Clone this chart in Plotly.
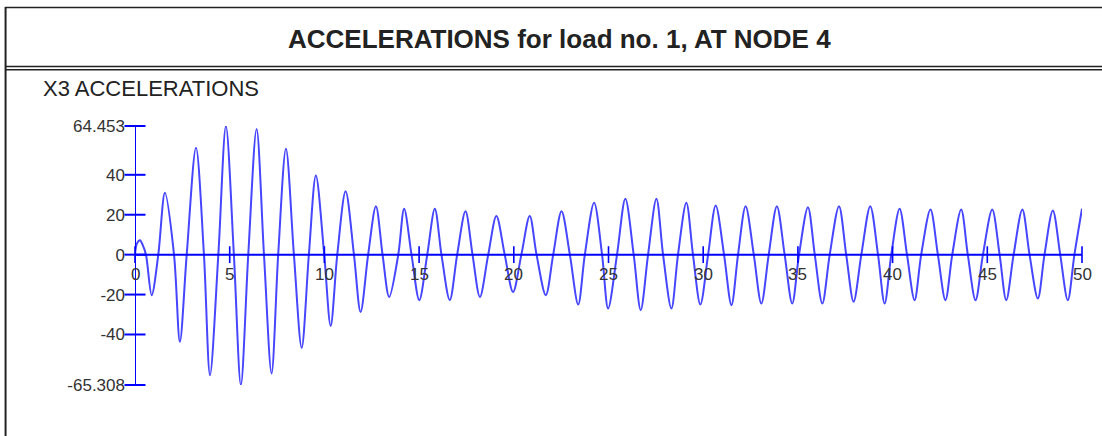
import plotly.graph_objects as go

# Time history of X3 acceleration at node 4 (load no. 1)
time_s = [
    0.00, 0.10, 0.26, 0.42, 0.58, 0.88, 1.23, 1.58, 2.06, 2.37, 2.73, 3.22, 3.64, 3.96,
    4.40, 4.80, 5.22, 5.59, 5.98, 6.42, 6.81, 7.21, 7.56, 7.97, 8.39, 8.80, 9.18, 9.55,
    9.99, 10.33, 10.68, 11.12, 11.56, 11.91, 12.31, 12.72, 13.07, 13.42, 13.90, 14.21,
    14.60, 15.01, 15.43, 15.83, 16.18, 16.62, 17.01, 17.45, 17.82, 18.21, 18.65, 19.08,
    19.52, 19.96, 20.40, 20.84, 21.20, 21.69, 22.08, 22.52, 22.96, 23.40, 23.75, 24.24,
    24.66, 24.98, 25.45, 25.89, 26.33, 26.70, 27.09, 27.53, 27.88, 28.32, 28.67, 29.11,
    29.46, 29.85, 30.26, 30.66, 31.10, 31.49, 31.84, 32.24, 32.67, 33.07, 33.46, 33.89,
    34.30, 34.70, 35.06, 35.53, 35.89, 36.29, 36.68, 37.17, 37.55, 37.94, 38.35, 38.82,
    39.23, 39.58, 39.93, 40.37, 40.76, 41.16, 41.51, 42.00, 42.39, 42.79, 43.15, 43.62,
    43.97, 44.38, 44.77, 45.26, 45.65, 46.00, 46.39, 46.85, 47.23, 47.67, 48.02, 48.46,
    48.85, 49.25, 49.60, 50.00,
]
accel = [
    0.0, 5.5, 7.2, 4.5, 0.0, -20.3, 0.0, 31.0, 0.0, -43.7, 0.0, 53.5, 0.0, -60.4,
    0.0, 64.453, 0.0, -65.308, 0.0, 62.9, 0.0, -59.5, 0.0, 53.0, 0.0, -46.7, 0.0, 39.7,
    0.0, -35.7, 0.0, 31.7, 0.0, -28.7, 0.0, 24.3, 0.0, -21.2, 0.0, 23.0,
    0.0, -22.8, 0.0, 23.0, 0.0, -22.8, 0.0, 21.7, 0.0, -21.2, 0.0, 19.4,
    0.0, -18.7, 0.0, 19.4, 0.0, -20.3, 0.0, 21.8, 0.0, -25.0, 0.0, 26.0,
    0.0, -27.0, 0.0, 28.0, 0.0, -27.8, 0.0, 28.0, 0.0, -27.0, 0.0, 26.0,
    0.0, -25.0, 0.0, 24.6, 0.0, -25.3, 0.0, 24.3, 0.0, -24.5, 0.0, 24.3,
    0.0, -24.5, 0.0, 23.8, 0.0, -24.5, 0.0, 24.3, 0.0, -23.6, 0.0, 24.3,
    0.0, -24.5, 0.0, 23.0, 0.0, -22.8, 0.0, 22.6, 0.0, -22.8, 0.0, 22.6,
    0.0, -22.8, 0.0, 22.6, 0.0, -22.8, 0.0, 22.6, 0.0, -22.0, 0.0, 22.1,
    0.0, -22.8, 0.0, 23.0,
]

x_ticks = [0, 5, 10, 15, 20, 25, 30, 35, 40, 45, 50]
y_ticks_inner = [-40, -20, 0, 20, 40]

a_min, a_max = min(accel), max(accel)
y_ticks = [a_min] + y_ticks_inner + [a_max]
y_labels = [f"{a_min:.3f}"] + [str(v) for v in y_ticks_inner] + [f"{a_max:.3f}"]

W, H = 1102, 436
ML, MR, MT, MB = 135, 19.5, 126, 51
PW, PH = W - ML - MR, H - MT - MB


def px(x):
    return (x - ML) / PW


def py(y):
    return 1 - (y - MT) / PH


BLUE = "#0000ff"
INK = "#222222"
FONT = "Liberation Sans, Arial, sans-serif"

fig = go.Figure()

# the acceleration trace
fig.add_trace(go.Scatter(
    x=time_s, y=accel, mode="lines",
    line=dict(color="#4646ff", width=2, shape="spline", smoothing=0.9),
    hoverinfo="skip", cliponaxis=False,
))

# tick marks crossing the axes
fig.add_trace(go.Scatter(
    x=[0] * len(y_ticks), y=y_ticks, mode="markers",
    marker=dict(symbol="line-ew", size=15, line=dict(color=BLUE, width=2)),
    hoverinfo="skip", cliponaxis=False,
))
fig.add_trace(go.Scatter(
    x=x_ticks, y=[0] * len(x_ticks), mode="markers",
    marker=dict(symbol="line-ns", size=12, line=dict(color=BLUE, width=1.6)),
    hoverinfo="skip", cliponaxis=False,
))

shapes = [
    # axis lines
    dict(type="line", xref="x", yref="y", x0=0, x1=0, y0=a_min, y1=a_max,
         line=dict(color=BLUE, width=2), layer="above"),
    dict(type="line", xref="x", yref="y", x0=0, x1=x_ticks[-1], y0=0, y1=0,
         line=dict(color=BLUE, width=2), layer="above"),
    # outer frame and title band
    dict(type="line", xref="paper", yref="paper", x0=px(5.5), x1=px(5.5), y0=py(7), y1=py(440),
         line=dict(color=INK, width=2)),
    dict(type="line", xref="paper", yref="paper", x0=px(5), x1=px(1110), y0=py(7.5), y1=py(7.5),
         line=dict(color=INK, width=1.5)),
    dict(type="line", xref="paper", yref="paper", x0=px(5), x1=px(1110), y0=py(66.5), y1=py(66.5),
         line=dict(color=INK, width=1.5)),
    dict(type="line", xref="paper", yref="paper", x0=px(5), x1=px(1110), y0=py(69.8), y1=py(69.8),
         line=dict(color=INK, width=1.5)),
]

annotations = [
    dict(text="<b>ACCELERATIONS for load no. 1, AT NODE 4</b>", xref="paper", yref="paper",
         x=px(560), y=py(39), xanchor="center", yanchor="middle", showarrow=False,
         font=dict(family=FONT, size=26, color=INK)),
    dict(text="X3 ACCELERATIONS", xref="paper", yref="paper",
         x=px(41), y=py(88), xanchor="left", yanchor="middle", showarrow=False,
         font=dict(family=FONT, size=22, color=INK)),
]
for t in x_ticks:
    annotations.append(dict(
        text=str(t), x=t, y=0, xref="x", yref="y", xanchor="center", yanchor="top",
        yshift=-8, showarrow=False, font=dict(family=FONT, size=17, color="#333333"),
    ))

fig.update_layout(
    width=W, height=H,
    margin=dict(l=ML, r=MR, t=MT, b=MB, pad=0),
    paper_bgcolor="white", plot_bgcolor="white",
    showlegend=False,
    xaxis=dict(range=[0, 50], visible=False, fixedrange=True),
    yaxis=dict(range=[a_min, a_max], tickvals=y_ticks, ticktext=y_labels,
               showgrid=False, zeroline=False, showline=False, ticks="",
               ticklabelstandoff=9, fixedrange=True,
               tickfont=dict(family=FONT, size=17, color="#333333")),
    shapes=shapes, annotations=annotations,
)

fig.write_html("out.html")
